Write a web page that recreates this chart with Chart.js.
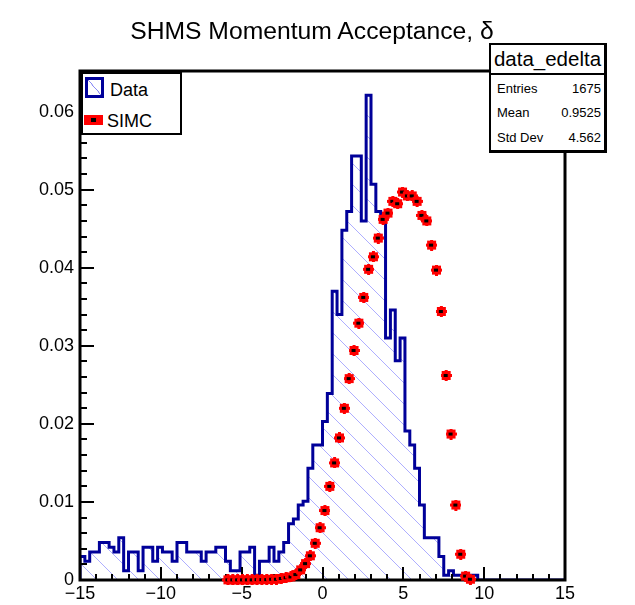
<!DOCTYPE html>
<html>
<head>
<meta charset="utf-8">
<script src="https://cdn.jsdelivr.net/npm/chart.js@4.4.1/dist/chart.umd.min.js"></script>
<style>
  body { margin: 0; background: #fff; }
  #wrap { position: relative; width: 635px; height: 605px; font-family: "Liberation Sans", Arial, sans-serif; color: #000; }
  #title { position: absolute; left: 0; top: 19px; width: 624px; text-align: center; font-size: 24.7px; line-height: 24px; }
  #legend { position: absolute; left: 80px; top: 71px; width: 102px; height: 64px; box-sizing: border-box;
            border: 2px solid #000; border-left-width: 3px; border-top-width: 3px; background: #fff; }
  .lrow { position: absolute; left: 0; font-size: 18px; line-height: 18px; }
  #symData { position: absolute; left: 2px; top: 3px; width: 19px; height: 21px; box-sizing: border-box;
             border: 3px solid #000099;
             background: linear-gradient(to top right, transparent 48%, #8a8af5 49%, #8a8af5 52%, transparent 53%); }
  #symSimc { position: absolute; left: 1px; top: 41px; width: 19px; height: 10px; background: #ff0000; }
  #symSimc span { position: absolute; left: 7px; top: 3px; width: 5px; height: 4px; background: #000; }
  #stats { position: absolute; left: 489px; top: 43px; width: 118px; height: 110px; box-sizing: border-box;
           border: 2px solid #000; border-right-width: 3px; border-bottom-width: 3px; background: #fff; }
  #stats .head { height: 28px; border-bottom: 2px solid #000; text-align: center; font-size: 20.5px; line-height: 28px; }
  #stats .row { position: absolute; left: 6px; right: 3px; font-size: 13px; line-height: 14px; }
  #stats .row b { font-weight: normal; float: right; }
</style>
</head>
<body>
<div id="wrap">
  <canvas id="myChart" width="635" height="605"></canvas>
  <div id="title">SHMS Momentum Acceptance, δ</div>
  <div id="legend">
    <div id="symData"></div>
    <div class="lrow" style="left:27px; top:7px;">Data</div>
    <div id="symSimc"><span></span></div>
    <div class="lrow" style="left:24px; top:38px;">SIMC</div>
  </div>
  <div id="stats">
    <div class="head">data_edelta</div>
    <div class="row" style="top:37px;">Entries<b>1675</b></div>
    <div class="row" style="top:61px;">Mean<b>0.9525</b></div>
    <div class="row" style="top:86px;">Std Dev<b>4.562</b></div>
  </div>
</div>
<script>
// histogram binning (100 bins from -15 to 15)
const xMin = -15;
const xMax = 15;
const binWidth = 0.3;

// data histogram, normalised contents per bin
const dataValues = [
  0.0030, 0.0024, 0.0036, 0.0036, 0.0048, 0.0048, 0.0042, 0.0036, 0.0054, 0.0012,
  0.0036, 0.0036, 0.0012, 0.0042, 0.0042, 0.0024, 0.0042, 0.0036, 0.0036, 0.0024,
  0.0048, 0.0048, 0.0036, 0.0036, 0.0036, 0.0024, 0.0036, 0.0036, 0.0042, 0.0042,
  0.0024, 0.0012, 0.0012, 0.0036, 0.0036, 0.0042, 0.0006, 0.0024, 0.0024, 0.0042,
  0.0024, 0.0036, 0.0048, 0.0072, 0.0078, 0.0096, 0.0101, 0.0143, 0.0173, 0.0173,
  0.0203, 0.0239, 0.0370, 0.0340, 0.0448, 0.0472, 0.0543, 0.0543, 0.0460, 0.0621,
  0.0507, 0.0472, 0.0466, 0.0310, 0.0346, 0.0281, 0.0310, 0.0191, 0.0173, 0.0143,
  0.0096, 0.0054, 0.0054, 0.0054, 0.0030, 0.0006, 0.0012, 0.0006, 0.0006, 0.0006,
  0.0006, 0.0006, 0, 0, 0, 0, 0, 0, 0, 0,
  0, 0, 0, 0, 0, 0, 0, 0, 0, 0
];

// SIMC histogram, bins 30..80 (empty elsewhere)
const simcFirstBin = 30;
const simcValues = [
  0.00002, 0.00002, 0.00002, 0.00002, 0.00002, 0.00002, 0.00005, 0.00005, 0.00005, 0.0001,
  0.0001, 0.0002, 0.0003, 0.0004, 0.0007, 0.0013, 0.0021, 0.0031, 0.0047, 0.0067,
  0.0089, 0.0120, 0.0150, 0.0182, 0.0220, 0.0258, 0.0294, 0.0329, 0.0362, 0.0398,
  0.0414, 0.0438, 0.0462, 0.0470, 0.0485, 0.0482, 0.0497, 0.0492, 0.0492, 0.0485,
  0.0467, 0.0460, 0.0429, 0.0397, 0.0344, 0.0262, 0.0187, 0.0096, 0.0033, 0.0005,
  0.0001
];

// axis ticks
const xTickValues = [-15, -10, -5, 0, 5, 10, 15];
const yTickValues = [0, 0.01, 0.02, 0.03, 0.04, 0.05, 0.06];
const yTickLabels = ['0', '0.01', '0.02', '0.03', '0.04', '0.05', '0.06'];
const yMax = 0.0652;

// step line points at bin low edges
var dataPoints = [{x: xMin, y: 0}];
dataValues.forEach(function(v, i){
    dataPoints.push({x: xMin + i * binWidth, y: v});
});
dataPoints.push({x: xMax, y: 0});

var simcPoints = simcValues.map(function(v, i){
    return {x: xMin + (simcFirstBin + i + 0.5) * binWidth, y: v};
});

// hatch pattern (ROOT style 3004-ish)
function makeHatch(){
    var n = 21;
    var c = document.createElement('canvas');
    c.width = n; c.height = n;
    var g = c.getContext('2d');
    g.strokeStyle = 'rgba(120,120,255,0.6)';
    g.lineWidth = 1;
    g.beginPath();
    g.moveTo(-1, -1); g.lineTo(n + 1, n + 1);
    g.moveTo(-1, n - 1); g.lineTo(1, n + 1);
    g.moveTo(n - 1, -1); g.lineTo(n + 1, 1);
    g.stroke();
    return c;
}

// red marker with black centre
function makeMarker(){
    var c = document.createElement('canvas');
    c.width = 11; c.height = 11;
    var g = c.getContext('2d');
    g.fillStyle = '#ff0000';
    g.fillRect(1, 1, 9, 9);
    g.fillRect(0, 4, 11, 3);
    g.fillRect(4, 0, 3, 11);
    g.fillStyle = '#000';
    g.fillRect(3, 4, 4, 3);
    return c;
}

function fmtX(v){
    return v < 0 ? '\u2212' + Math.abs(v) : String(v);
}

// frame and inside ticks, drawn after the data histogram
const frameTicks = {
    id: 'frameTicks',
    afterDatasetDraw(chart, args){
        if (args.index !== 0) return;
        const ctx = chart.ctx, a = chart.chartArea;
        const x = chart.scales.x, y = chart.scales.y;
        ctx.save();
        ctx.strokeStyle = '#000';
        ctx.lineWidth = 2;
        ctx.beginPath();
        for (let v = -15; v <= 15; v++) {
            const px = Math.round(x.getPixelForValue(v));
            const len = (v % 5 === 0) ? 13 : 6;
            ctx.moveTo(px, a.bottom); ctx.lineTo(px, a.bottom - len);
        }
        for (let i = 0; i <= 32; i++) {
            const py = Math.round(y.getPixelForValue(i * 0.002));
            const len = (i % 5 === 0) ? 14 : 7;
            ctx.moveTo(a.left, py); ctx.lineTo(a.left + len, py);
        }
        ctx.stroke();
        ctx.lineWidth = 3;
        ctx.strokeRect(a.left, a.top, a.right - a.left, a.bottom - a.top);
        ctx.restore();
    }
};

var ctx = document.getElementById('myChart').getContext('2d');
var myChart = new Chart(ctx, {
    type: 'scatter',
    data: {
        datasets: [{
            label: 'Data',
            data: dataPoints,
            showLine: true,
            stepped: 'before',
            borderColor: '#000099',
            borderWidth: 3,
            backgroundColor: ctx.createPattern(makeHatch(), 'repeat'),
            fill: 'origin',
            pointRadius: 0,
            order: 1
        },
        {
            label: 'SIMC',
            data: simcPoints,
            showLine: false,
            pointStyle: makeMarker(),
            pointRadius: 5,
            clip: false,
            order: 0
        }]
    },
    options: {
        responsive: false,
        animation: false,
        events: [],
        layout: { padding: { left: 0, right: 70, top: 71, bottom: 0 } },
        plugins: {
            legend: { display: false },
            title: { display: false },
            tooltip: { enabled: false }
        },
        scales: {
            x: {
                type: 'linear',
                min: xMin,
                max: xMax,
                afterBuildTicks: function(s){ s.ticks = xTickValues.map(function(v){ return {value: v}; }); },
                afterFit: function(s){ s.height = 25; },
                ticks: {
                    callback: function(v){ return fmtX(v); },
                    font: { family: 'Liberation Sans', size: 18 },
                    color: '#000',
                    padding: 3,
                    maxRotation: 0,
                    autoSkip: false
                },
                grid: { display: false, drawTicks: false },
                border: { display: false }
            },
            y: {
                type: 'linear',
                min: 0,
                max: yMax,
                afterBuildTicks: function(s){ s.ticks = yTickValues.map(function(v){ return {value: v}; }); },
                afterFit: function(s){ s.width = 80; },
                ticks: {
                    callback: function(v, i){ return yTickLabels[i]; },
                    font: { family: 'Liberation Sans', size: 18 },
                    color: '#000',
                    padding: 6,
                    autoSkip: false
                },
                grid: { display: false, drawTicks: false },
                border: { display: false }
            }
        }
    },
    plugins: [frameTicks]
});
</script>
</body>
</html>
